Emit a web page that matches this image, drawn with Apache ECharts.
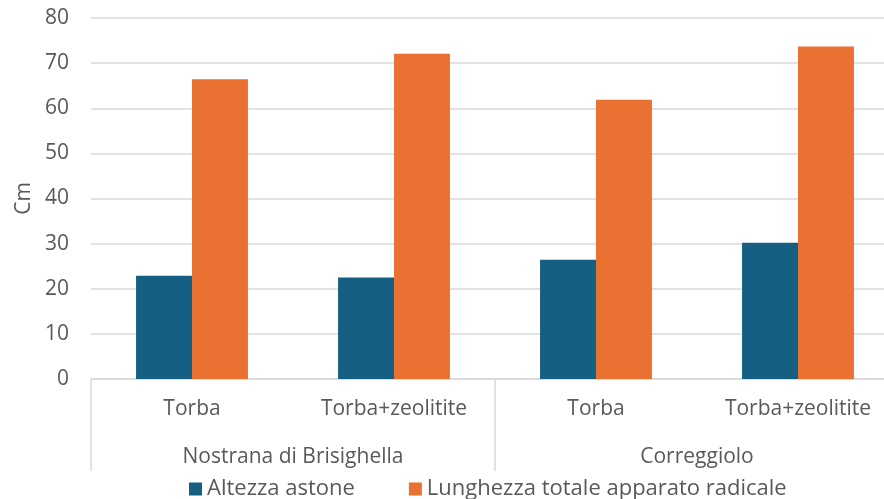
<!DOCTYPE html>
<html><head><meta charset="utf-8">
<script src="https://cdn.jsdelivr.net/npm/echarts@6/dist/echarts.min.js"></script>
<style>html,body{margin:0;padding:0;background:#fff;overflow:hidden}#c{width:899px;height:499px}</style>
</head><body><div id="c"></div>
<script>
const treatments = ['Torba', 'Torba+zeolitite', 'Torba', 'Torba+zeolitite'];
const varieties = ['Nostrana di Brisighella', 'Correggiolo'];
const seriesNames = ['Altezza astone', 'Lunghezza totale apparato radicale'];
const altezza = [22.9, 22.5, 26.4, 30.2];
const lunghezza = [66.4, 72.1, 61.9, 73.7];
const yTicks = { min: 0, max: 80, interval: 10 };

const txt = '#595959', grid = '#D9D9D9', font = 'Open Sans';
const fs = 21;
const chart = echarts.init(document.getElementById('c'));
chart.setOption({
  animation: false,
  textStyle: { fontFamily: font },
  grid: { left: 91, top: 18, right: 0, bottom: 120, containLabel: false },
  legend: {
    bottom: -6, left: 184, itemWidth: 13, itemHeight: 13, itemGap: 54,
    icon: 'rect', textStyle: { fontSize: 22, color: txt, fontFamily: font },
    data: seriesNames
  },
  xAxis: [
    { type: 'category', data: treatments, position: 'bottom',
      axisLine: { lineStyle: { color: grid, width: 1.5 } }, axisTick: { show: false },
      axisLabel: { fontSize: fs, color: txt, margin: 20, interval: 0 } },
    { type: 'category', data: varieties, position: 'bottom', gridIndex: 0,
      axisLine: { show: false },
      axisTick: { show: true, length: 92, lineStyle: { color: grid, width: 1.5 } },
      axisLabel: { fontSize: fs, color: txt, margin: 68, interval: 0 } }
  ],
  yAxis: {
    type: 'value', min: yTicks.min, max: yTicks.max, interval: yTicks.interval,
    name: 'Cm', nameLocation: 'middle', nameRotate: 90, nameGap: 51,
    nameTextStyle: { fontSize: fs, color: txt },
    axisLine: { show: false }, axisTick: { show: false },
    axisLabel: { fontSize: fs, color: txt, margin: 22 },
    splitLine: { lineStyle: { color: grid, width: 1.5 } }
  },
  series: [
    { name: seriesNames[0], type: 'bar', data: altezza, xAxisIndex: 0,
      itemStyle: { color: '#156082' }, barWidth: '27.7%', barGap: '0%' },
    { name: seriesNames[1], type: 'bar', data: lunghezza, xAxisIndex: 0,
      itemStyle: { color: '#E97132' }, barWidth: '27.7%', barGap: '0%' }
  ]
});
</script></body></html>
